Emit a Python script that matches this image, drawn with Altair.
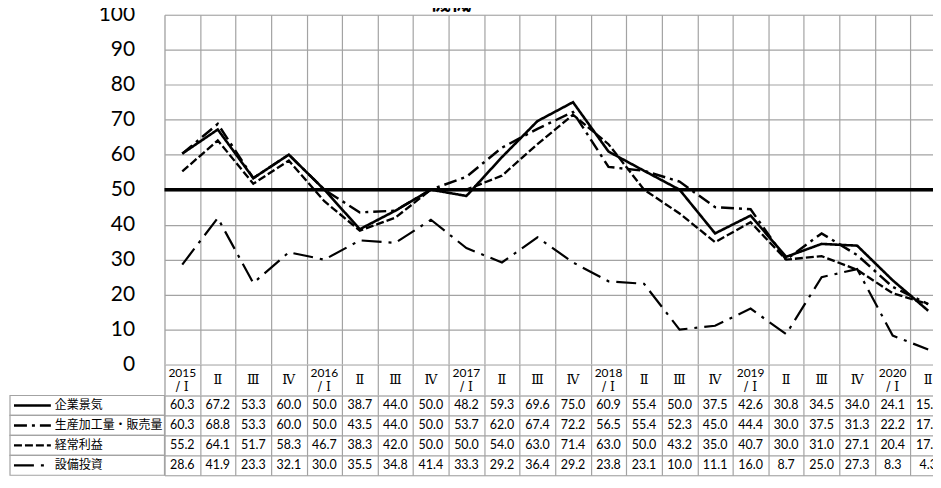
import altair as alt
import pandas as pd

# ---------------- data ----------------
title_text = ["機械"]
keys = ["2015-1", "2015-2", "2015-3", "2015-4",
        "2016-1", "2016-2", "2016-3", "2016-4",
        "2017-1", "2017-2", "2017-3", "2017-4",
        "2018-1", "2018-2", "2018-3", "2018-4",
        "2019-1", "2019-2", "2019-3", "2019-4",
        "2020-1", "2020-2"]
cat_year = ["2015", "", "", "", "2016", "", "", "", "2017", "", "", "",
            "2018", "", "", "", "2019", "", "", "", "2020", ""]
cat_quarter = ["/ Ⅰ", "Ⅱ", "Ⅲ", "Ⅳ", "/ Ⅰ", "Ⅱ", "Ⅲ", "Ⅳ", "/ Ⅰ", "Ⅱ", "Ⅲ", "Ⅳ",
               "/ Ⅰ", "Ⅱ", "Ⅲ", "Ⅳ", "/ Ⅰ", "Ⅱ", "Ⅲ", "Ⅳ", "/ Ⅰ", "Ⅱ"]
series = ["企業景気", "生産加工量・販売量", "経常利益", "設備投資"]
kigyo = [60.3, 67.2, 53.3, 60.0, 50.0, 38.7, 44.0, 50.0, 48.2, 59.3, 69.6,
         75.0, 60.9, 55.4, 50.0, 37.5, 42.6, 30.8, 34.5, 34.0, 24.1, 15.4]
seisan = [60.3, 68.8, 53.3, 60.0, 50.0, 43.5, 44.0, 50.0, 53.7, 62.0, 67.4,
          72.2, 56.5, 55.4, 52.3, 45.0, 44.4, 30.0, 37.5, 31.3, 22.2, 17.3]
keijo = [55.2, 64.1, 51.7, 58.3, 46.7, 38.3, 42.0, 50.0, 50.0, 54.0, 63.0,
         71.4, 63.0, 50.0, 43.2, 35.0, 40.7, 30.0, 31.0, 27.1, 20.4, 17.3]
setsubi = [28.6, 41.9, 23.3, 32.1, 30.0, 35.5, 34.8, 41.4, 33.3, 29.2, 36.4,
           29.2, 23.8, 23.1, 10.0, 11.1, 16.0, 8.7, 25.0, 27.3, 8.3, 4.3]
ref_line = [50]
y_ticks = [0, 10, 20, 30, 40, 50, 60, 70, 80, 90, 100]

# ---------------- tables ----------------
vals = [kigyo, seisan, keijo, setsubi]
long_df = pd.DataFrame([
    {"series": s, "key": k, "value": v}
    for s, arr in zip(series, vals) for k, v in zip(keys, arr)
])
cat_df = pd.DataFrame({"key": keys, "year": cat_year, "quarter": cat_quarter})
ser_df = pd.DataFrame({"series": series})
ref_df = pd.DataFrame({"value": ref_line})
title_df = pd.DataFrame({"t": title_text})

# ---------------- styles ----------------
GRID = "#a3a3a3"
GW = 1.2
CJK = "Noto Sans CJK JP"
NUM = "Lato"
ROMAN = "DejaVu Serif"
W = 784
H_PLOT = 351
H_CAT = 31
H_TAB = 80

dash_scale = alt.Scale(domain=series, range=[[1, 0], [13, 5, 3, 5], [8, 3], [20, 7, 3, 7]])
width_scale = alt.Scale(domain=series, range=[2.6, 2.2, 2.2, 2.2])
x_scale = alt.Scale(type="band", domain=keys, paddingInner=0, paddingOuter=0)
grid_axis = alt.Axis(labels=False, ticks=False, domain=False, grid=True,
                     tickBand="extent", gridColor=GRID, gridWidth=GW, title=None)
y_axis = alt.Axis(values=y_ticks, labelFontSize=21, labelFont=NUM,
                  labelColor="#000", labelPadding=30, ticks=False,
                  labelOverlap=False, domain=False, grid=True,
                  gridColor=GRID, gridWidth=GW, title=None)
y_scale = alt.Scale(domain=[0, 100], nice=False)

# ---------------- top chart ----------------
x_top = alt.X("key:N", scale=x_scale, axis=grid_axis, bandPosition=0.5)
y_top = alt.Y("value:Q", scale=y_scale, axis=y_axis)

lines = alt.Chart(long_df).mark_line(color="black").encode(
    x=x_top,
    y=y_top,
    detail="series:N",
    strokeDash=alt.StrokeDash("series:N", scale=dash_scale, legend=None),
    strokeWidth=alt.StrokeWidth("series:N", scale=width_scale, legend=None),
)
ref = alt.Chart(ref_df).mark_rule(color="black", strokeWidth=3.6).encode(
    y=alt.Y("value:Q", scale=y_scale, axis=y_axis))
ttl = alt.Chart(title_df).mark_text(font=CJK, fontSize=21, fontWeight="bold",
                                    baseline="bottom", align="center").encode(
    x=alt.value(287), y=alt.value(-1.5), text="t:N")

top = alt.layer(lines, ref, ttl).properties(width=W, height=H_PLOT)

# ---------------- category row ----------------
cat_base = alt.Chart(cat_df).encode(
    x=alt.X("key:N", scale=x_scale, axis=grid_axis),
    y=alt.value(H_CAT / 2),
)
cat_year_t = cat_base.mark_text(font=NUM, fontSize=12, baseline="middle",
                                color="#000", dy=-7).encode(
    text="year:N").transform_filter("datum.year != ''")
cat_q1 = cat_base.mark_text(font=ROMAN, fontSize=12.5, baseline="middle",
                            color="#000", dy=7).encode(
    text="quarter:N").transform_filter("datum.year != ''")
cat_q = cat_base.mark_text(font=ROMAN, fontSize=13, baseline="middle",
                           color="#000").encode(
    text="quarter:N").transform_filter("datum.year == ''")
cat = alt.layer(cat_year_t, cat_q1, cat_q).properties(width=W, height=H_CAT)

# ---------------- data table ----------------
y_scale_tab = alt.Scale(domain=series, paddingInner=0, paddingOuter=0)
y_tab = alt.Y("series:N", scale=y_scale_tab,
              axis=alt.Axis(labels=False, ticks=False, domain=False, grid=True,
                            tickBand="extent", gridColor=GRID, gridWidth=GW,
                            title=None))

cells = alt.Chart(long_df).mark_text(font=NUM, fontSize=12.5, color="#000",
                                     baseline="middle").encode(
    x=alt.X("key:N", scale=x_scale, axis=grid_axis),
    y=y_tab,
    text=alt.Text("value:Q", format=".1f"),
)
leg_box = alt.Chart(ser_df).mark_rect(fill="white", stroke=GRID,
                                      strokeWidth=GW).encode(
    y=alt.Y("series:N", scale=y_scale_tab), x=alt.value(-155), x2=alt.value(0))
leg_line = alt.Chart(ser_df).mark_rule(color="black").encode(
    y=alt.Y("series:N", scale=y_scale_tab),
    x=alt.value(-151), x2=alt.value(-114),
    strokeDash=alt.StrokeDash("series:N", scale=dash_scale, legend=None),
    strokeWidth=alt.StrokeWidth("series:N", scale=alt.Scale(domain=series, range=[3, 2.6, 2.6, 2.6]), legend=None),
)
leg_text = alt.Chart(ser_df).mark_text(font=CJK, fontSize=12, align="left",
                                       baseline="middle", color="#000").encode(
    y=alt.Y("series:N", scale=y_scale_tab), x=alt.value(-110), text="series:N")

table = alt.layer(leg_box, leg_line, leg_text, cells).properties(width=W, height=H_TAB)

chart = alt.vconcat(top, cat, table, spacing=0, bounds="flush").properties(
    padding={"top": -17, "left": 0, "right": -16, "bottom": 0}
).configure_view(stroke=GRID, strokeWidth=GW).configure(background="white")

chart.save("out.html", embed_options={"renderer": "svg", "actions": False})
